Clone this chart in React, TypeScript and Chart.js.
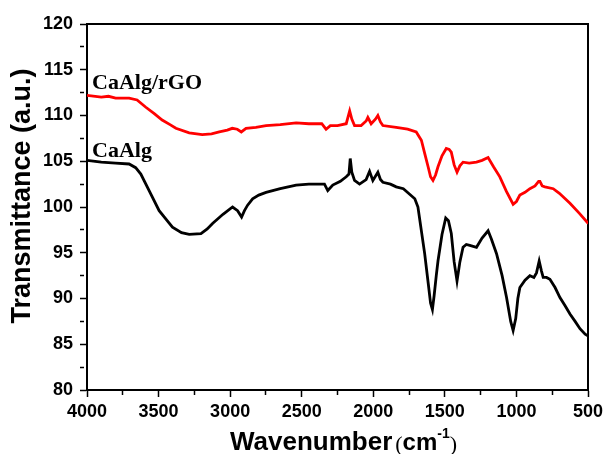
import React, { useEffect, useRef } from "react";
import { Chart, registerables } from "chart.js";

Chart.register(...registerables);

// CaAlg/rGO (red)
const wavenumbersRGO = [
  4000, 3900, 3850, 3800, 3706, 3650, 3589, 3530, 3475, 3420, 3379, 3286, 3195, 3130, 3076, 3020,
  2985, 2950, 2922, 2889, 2820, 2749, 2650, 2539, 2450, 2360, 2330, 2300, 2250, 2189, 2165, 2150,
  2131, 2085, 2050, 2038, 2015, 1985, 1968, 1950, 1933, 1840, 1760, 1700, 1664, 1640, 1617, 1600,
  1583, 1565, 1548, 1520, 1490, 1470, 1455, 1435, 1415, 1395, 1373, 1330, 1279, 1240, 1198, 1160,
  1116, 1070, 1023, 1000, 976, 940, 906, 870, 845, 836, 820, 801, 743, 700, 626, 560, 498,
];
const transmittanceRGO = [
  112.2, 112.0, 112.1, 111.9, 111.9, 111.7, 110.9, 110.2, 109.5, 109.0, 108.6, 108.1, 107.9, 108.0, 108.2, 108.4,
  108.6, 108.5, 108.2, 108.6, 108.7, 108.9, 109.0, 109.2, 109.1, 109.1, 108.5, 108.9, 108.9, 109.1, 110.5, 109.6,
  108.9, 108.9, 109.4, 109.8, 109.1, 109.6, 110.0, 109.3, 108.9, 108.7, 108.5, 108.2, 107.3, 105.8, 104.4, 103.3,
  102.9, 103.5, 104.4, 105.6, 106.4, 106.3, 106.0, 104.6, 103.8, 104.5, 104.9, 104.8, 104.9, 105.1, 105.4, 104.4,
  103.3, 101.7, 100.3, 100.6, 101.3, 101.6, 102.0, 102.3, 102.8, 102.8, 102.3, 102.2, 102.0, 101.5, 100.4, 99.3, 98.2,
];

// CaAlg (black)
const wavenumbersAlg = [
  4000, 3900, 3800, 3706, 3660, 3624, 3566, 3496, 3440, 3403, 3340, 3286, 3204, 3160, 3123, 3050,
  2983, 2948, 2920, 2900, 2878, 2843, 2800, 2749, 2650, 2539, 2450, 2341, 2318, 2283, 2230, 2189,
  2170, 2161, 2150, 2131, 2096, 2050, 2026, 2003, 1968, 1950, 1933, 1880, 1840, 1790, 1746, 1710,
  1688, 1665, 1641, 1615, 1600, 1587, 1575, 1560, 1548, 1520, 1494, 1475, 1455, 1435, 1415, 1395,
  1373, 1350, 1326, 1279, 1240, 1198, 1175, 1139, 1100, 1069, 1040, 1023, 1005, 990, 976, 940,
  906, 878, 860, 841, 825, 813, 790, 766, 730, 696, 660, 626, 590, 556, 520, 498,
];
const transmittanceAlg = [
  105.1, 104.9, 104.8, 104.7, 104.3, 103.6, 101.8, 99.6, 98.5, 97.8, 97.2, 97.0, 97.1, 97.6, 98.2, 99.2,
  100.0, 99.6, 98.9, 99.6, 100.2, 100.9, 101.3, 101.6, 102.0, 102.4, 102.5, 102.5, 101.8, 102.4, 102.8, 103.3,
  103.6, 105.3, 103.8, 102.9, 102.5, 103.0, 103.9, 102.9, 103.8, 103.0, 102.7, 102.5, 102.2, 102.0, 101.4, 100.9,
  100.0, 97.5, 94.9, 91.5, 89.5, 88.8, 90.3, 92.5, 94.1, 97.0, 98.8, 98.5, 97.1, 94.0, 91.9, 94.0,
  95.6, 95.9, 95.8, 95.6, 96.6, 97.4, 96.5, 94.9, 92.5, 90.1, 87.5, 86.5, 87.8, 90.0, 91.2, 92.0,
  92.5, 92.3, 92.8, 94.1, 93.0, 92.3, 92.3, 92.1, 91.2, 90.1, 89.2, 88.3, 87.5, 86.7, 86.1, 85.9,
];

const seriesLabels = ["CaAlg/rGO", "CaAlg"];
const xTitle = "Wavenumber";
const yTitle = "Transmittance (a.u.)";

const SANS = '"Liberation Sans", Arial, sans-serif';
const SERIF = '"Liberation Serif", "Times New Roman", serif';

const textPlugin = {
  id: "texts",
  afterDraw(chart: any) {
    const ctx: CanvasRenderingContext2D = chart.ctx;
    ctx.save();
    ctx.fillStyle = "#000000";

    // series annotations
    ctx.font = `bold 22px ${SERIF}`;
    ctx.textAlign = "left";
    ctx.textBaseline = "alphabetic";
    ctx.fillText(seriesLabels[0], 92, 89);
    ctx.fillText(seriesLabels[1], 92, 157);

    // y title
    ctx.save();
    ctx.translate(23, 196);
    ctx.rotate(-Math.PI / 2);
    ctx.font = `bold 27px ${SANS}`;
    ctx.textAlign = "center";
    ctx.textBaseline = "middle";
    ctx.fillText(yTitle, 0, 0);
    ctx.restore();

    // x title with superscript
    let x = 230;
    const base = 450;
    ctx.textBaseline = "alphabetic";
    ctx.textAlign = "left";
    ctx.font = `bold 26px ${SANS}`;
    ctx.fillText(xTitle, x, base);
    x += ctx.measureText(xTitle).width + 3;
    ctx.font = `22px ${SERIF}`;
    ctx.fillText("(", x, base + 1);
    x += ctx.measureText("(").width;
    ctx.font = `bold 24px ${SANS}`;
    ctx.fillText("cm", x, base);
    x += ctx.measureText("cm").width;
    ctx.font = `bold 14px ${SANS}`;
    ctx.fillText("-1", x, base - 12);
    x += ctx.measureText("-1").width;
    ctx.font = `22px ${SERIF}`;
    ctx.fillText(")", x, base + 1);
    ctx.restore();
  },
};

const tickFont = { family: SANS, size: 18, weight: "bold" as const };

export default function App() {
  const ref = useRef<HTMLCanvasElement | null>(null);
  useEffect(() => {
    if (!ref.current) return;
    const chart = new Chart(ref.current, {
      type: "line",
      data: {
        datasets: [
          {
            label: seriesLabels[0],
            data: wavenumbersRGO.map((w, i) => ({ x: w, y: transmittanceRGO[i] })),
            borderColor: "#ff0000",
            borderWidth: 2.8,
            pointRadius: 0,
            tension: 0,
            fill: false,
            xAxisID: "x",
            yAxisID: "y",
          },
          {
            label: seriesLabels[1],
            data: wavenumbersAlg.map((w, i) => ({ x: w, y: transmittanceAlg[i] })),
            borderColor: "#000000",
            borderWidth: 2.8,
            pointRadius: 0,
            tension: 0,
            fill: false,
            xAxisID: "x",
            yAxisID: "y",
          },
        ],
      },
      options: {
        responsive: false,
        animation: false,
        layout: { padding: { left: 0, top: 24, right: 17, bottom: 0 } },
        plugins: { legend: { display: false }, tooltip: { enabled: false } },
        scales: {
          x: {
            type: "linear",
            position: "bottom",
            reverse: true,
            min: 500,
            max: 4000,
            grid: {
              display: true,
              drawOnChartArea: false,
              drawTicks: true,
              tickLength: 7,
              tickWidth: 1.5,
              tickColor: "#000",
              tickBorderDash: (c: any) => (c.tick && c.tick.value % 500 === 0 ? [] : [4, 20]),
            },
            border: { display: true, color: "#000", width: 2 },
            ticks: {
              stepSize: 250,
              autoSkip: false,
              maxRotation: 0,
              padding: 4,
              color: "#000",
              font: tickFont,
              callback: (v: any) => (Number(v) % 500 === 0 ? String(v) : ""),
            },
            afterFit: (s: any) => {
              s.height = 64;
              s.paddingLeft = 0;
              s.paddingRight = 0;
            },
          },
          xTop: {
            type: "linear",
            position: "top",
            grid: { display: false },
            border: { display: true, color: "#000", width: 2 },
            ticks: { display: false },
            afterFit: (s: any) => {
              s.height = 0;
              s.paddingLeft = 0;
              s.paddingRight = 0;
            },
          },
          y: {
            type: "linear",
            position: "left",
            min: 80,
            max: 120,
            grid: {
              display: true,
              drawOnChartArea: false,
              drawTicks: true,
              tickLength: 7,
              tickWidth: 1.5,
              tickColor: "#000",
              tickBorderDash: (c: any) => (c.tick && c.tick.value % 5 === 0 ? [] : [4, 20]),
            },
            border: { display: true, color: "#000", width: 2 },
            ticks: {
              stepSize: 2.5,
              autoSkip: false,
              padding: 7,
              color: "#000",
              font: tickFont,
              callback: (v: any) => (Number(v) % 5 === 0 ? String(v) : ""),
            },
            afterFit: (s: any) => {
              s.width = 87;
              s.paddingTop = 0;
              s.paddingBottom = 0;
            },
          },
          yRight: {
            type: "linear",
            position: "right",
            grid: { display: false },
            border: { display: true, color: "#000", width: 2 },
            ticks: { display: false },
            afterFit: (s: any) => {
              s.width = 0;
              s.paddingTop = 0;
              s.paddingBottom = 0;
            },
          },
        },
      },
      plugins: [textPlugin],
    });
    return () => chart.destroy();
  }, []);
  return (
    <canvas
      ref={ref}
      width={605}
      height={454}
      style={{ position: "absolute", left: 0, top: 0, display: "block", background: "#fff" }}
    />
  );
}
